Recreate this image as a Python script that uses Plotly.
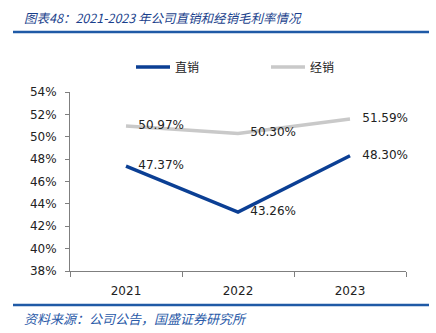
import plotly.graph_objects as go

years = ["2021", "2022", "2023"]
direct = [47.37, 43.26, 48.30]
dealer = [50.97, 50.30, 51.59]
direct_labels = ["47.37%", "43.26%", "48.30%"]
dealer_labels = ["50.97%", "50.30%", "51.59%"]
y_ticks = [38, 40, 42, 44, 46, 48, 50, 52, 54]

W, H = 436, 333
L, R, T, B = 70, 30, 92, 62
pw, ph = W - L - R, H - T - B

def px_x(x):
    return (x - L) / pw

def px_y(y):
    return (H - B - y) / ph

label_font = dict(family="DejaVu Sans", size=12, color="#222")

fig = go.Figure()
fig.add_trace(go.Scatter(
    x=years, y=direct, name="直销", mode="lines+markers+text",
    line=dict(color="#0b3f94", width=3.5),
    marker=dict(size=18, color="rgba(0,0,0,0)"),
    text=direct_labels, textposition="middle right", textfont=label_font,
    cliponaxis=False,
))
fig.add_trace(go.Scatter(
    x=years, y=dealer, name="经销", mode="lines+markers+text",
    line=dict(color="#c9c9c9", width=3.5),
    marker=dict(size=18, color="rgba(0,0,0,0)"),
    text=dealer_labels, textposition="middle right", textfont=label_font,
    cliponaxis=False,
))

fig.update_layout(
    width=W, height=H,
    margin=dict(l=L, r=R, t=T, b=B),
    paper_bgcolor="white", plot_bgcolor="white",
    font=dict(family="DejaVu Sans", size=12, color="#222"),
    showlegend=True,
    legend=dict(orientation="h", x=px_x(131), xanchor="left",
                y=px_y(67), yanchor="middle",
                font=dict(family="Noto Sans CJK SC", size=12, color="#222"),
                itemwidth=34, entrywidth=86, entrywidthmode="pixels",
                bgcolor="rgba(0,0,0,0)"),
    xaxis=dict(type="category", showline=True, linecolor="#7f7f7f", linewidth=1,
               ticks="outside", tickson="boundaries", ticklen=5, tickcolor="#7f7f7f",
               showgrid=False, tickfont=dict(size=12), range=[-0.5, 2.5],
               ticklabelstandoff=9),
    yaxis=dict(range=[38, 54], tickvals=y_ticks,
               ticktext=[f"{v}%" for v in y_ticks],
               showline=True, linecolor="#7f7f7f", linewidth=1,
               ticks="outside", ticklen=4, tickcolor="#7f7f7f",
               showgrid=False, zeroline=False, tickfont=dict(size=12),
               ticklabelstandoff=6),
)

fig.add_shape(type="line", xref="paper", yref="paper",
              x0=px_x(13), x1=px_x(429), y0=px_y(32), y1=px_y(32),
              line=dict(color="#1f5aa6", width=2.5))
fig.add_shape(type="line", xref="paper", yref="paper",
              x0=px_x(13), x1=px_x(429), y0=px_y(305), y1=px_y(305),
              line=dict(color="#1f5aa6", width=2.5))

fig.add_annotation(text="图表48：2021-2023 年公司直销和经销毛利率情况",
                   xref="paper", yref="paper", x=px_x(22), y=px_y(17),
                   xanchor="left", yanchor="middle", showarrow=False,
                   font=dict(family="Noto Sans CJK SC", size=12.5, color="#1a3f8c",
                             style="italic"))
fig.add_annotation(text="资料来源：公司公告，国盛证券研究所",
                   xref="paper", yref="paper", x=px_x(22), y=px_y(318),
                   xanchor="left", yanchor="middle", showarrow=False,
                   font=dict(family="Noto Sans CJK SC", size=13, color="#2a5aa8",
                             style="italic"))

fig.write_html("out.html")
